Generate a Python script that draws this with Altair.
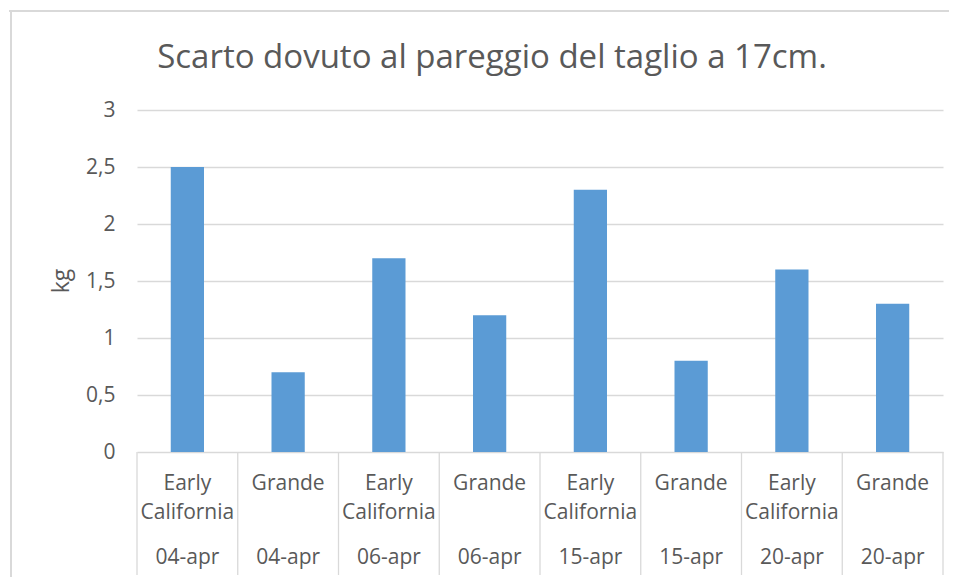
import altair as alt
import pandas as pd

line1 = ["Early", "Grande", "Early", "Grande", "Early", "Grande", "Early", "Grande"]
line2 = ["California", "", "California", "", "California", "", "California", ""]
dates = ["04-apr", "04-apr", "06-apr", "06-apr", "15-apr", "15-apr", "20-apr", "20-apr"]
values = [2.5, 0.7, 1.7, 1.2, 2.3, 0.8, 1.6, 1.3]
y_ticks = [0, 0.5, 1, 1.5, 2, 2.5, 3]
title_text = "Scarto dovuto al pareggio del taglio a 17cm."
y_title = "kg"

TEXT = "#595959"
GRID = "#D9D9D9"
BAR = "#5B9BD5"
FONT = "Open Sans"

W, H = 806, 342

df = pd.DataFrame({
    "pos": list(range(len(values))),
    "l1": line1,
    "l2": line2,
    "date": dates,
    "kg": values,
})
df["center"] = df["pos"] + 0.5
df["left"] = df["pos"] + 0.335
df["right"] = df["pos"] + 0.665

sep = pd.DataFrame({"b": list(range(len(values) + 1))})

xs = alt.Scale(domain=[0, len(values)], nice=False, zero=False)
ys = alt.Scale(domain=[0, 3], nice=False)

base = alt.Chart(df)

bars = base.mark_bar(color=BAR, cornerRadius=0).encode(
    x=alt.X("left:Q", scale=xs, axis=None),
    x2="right:Q",
    y=alt.Y("kg:Q", scale=ys,
            axis=alt.Axis(values=y_ticks, title=None, grid=True, gridColor=GRID,
                          gridWidth=1.3, domain=False, ticks=False,
                          labelExpr="replace(format(datum.value, '.1~f'), '.', ',')",
                          labelFont=FONT, labelFontSize=21, labelColor=TEXT,
                          labelPadding=22)),
    y2=alt.Y2(datum=0),
)

seps = alt.Chart(sep).mark_rule(color=GRID, strokeWidth=1.3).encode(
    x=alt.X("b:Q", scale=xs),
    y=alt.value(H),
    y2=alt.value(H + 123),
)

t1 = base.mark_text(font=FONT, fontSize=21, color=TEXT, baseline="middle").encode(
    x=alt.X("center:Q", scale=xs), y=alt.value(374), text="l1:N")
t2 = base.mark_text(font=FONT, fontSize=21, color=TEXT, baseline="middle").encode(
    x=alt.X("center:Q", scale=xs), y=alt.value(403), text="l2:N")
t3 = base.mark_text(font=FONT, fontSize=21, color=TEXT, baseline="middle").encode(
    x=alt.X("center:Q", scale=xs), y=alt.value(448), text="date:N")

title = alt.Chart(pd.DataFrame({"t": [title_text]})).mark_text(
    font=FONT, fontSize=33, color=TEXT, baseline="middle", align="center"
).encode(x=alt.value(355), y=alt.value(-52), text="t:N")

ytitle = alt.Chart(pd.DataFrame({"t": [y_title]})).mark_text(
    font=FONT, fontSize=23, color=TEXT, baseline="middle", align="center", angle=270
).encode(x=alt.value(-75), y=alt.value(H / 2), text="t:N")

frame_top = alt.Chart(pd.DataFrame({"a": [0]})).mark_rule(
    color=GRID, strokeWidth=2
).encode(x=alt.value(-128), x2=alt.value(W + 20), y=alt.value(-99))
frame_left = alt.Chart(pd.DataFrame({"a": [0]})).mark_rule(
    color=GRID, strokeWidth=2
).encode(x=alt.value(-126), y=alt.value(-99), y2=alt.value(H + 130))

chart = alt.layer(frame_top, frame_left, bars, seps, t1, t2, t3,
                  title, ytitle).properties(
    width=W, height=H,
    autosize=alt.AutoSizeParams(type="none"),
    padding={"left": 129, "top": 102, "right": 6, "bottom": 125},
    background="white",
).configure_view(stroke=None)

chart.save("out.html", embed_options={"renderer": "svg", "actions": False})
